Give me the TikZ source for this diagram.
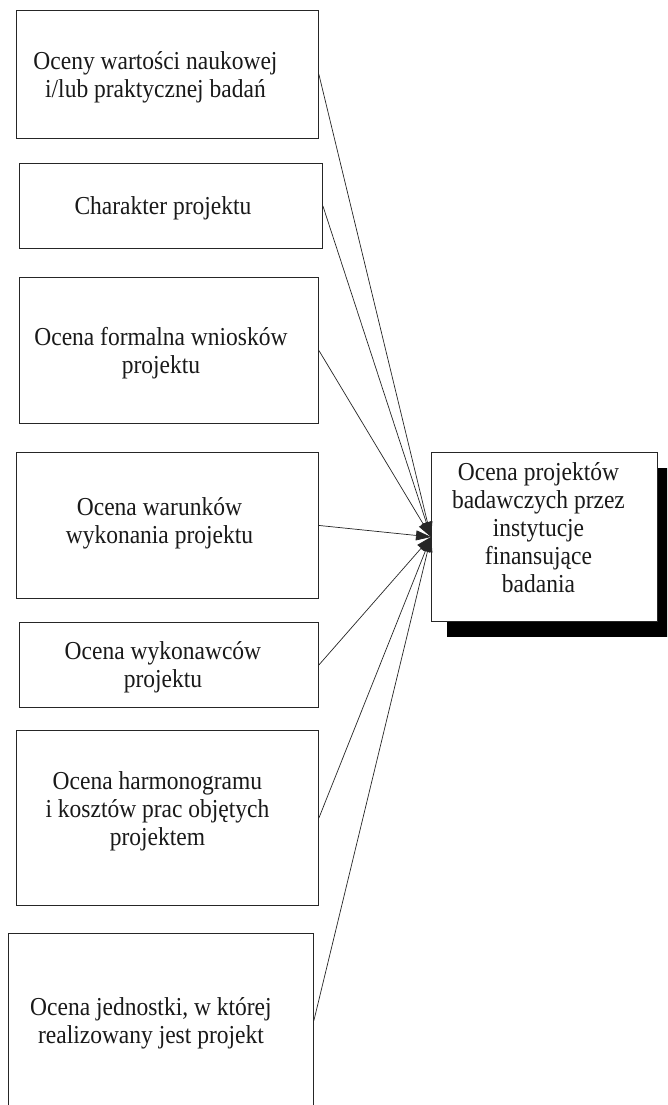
\documentclass[tikz,border=0pt]{standalone}
\usepackage{fontspec}
\usepackage{graphicx}
\setmainfont{Liberation Serif}
\usetikzlibrary{shadows,arrows.meta}
\newcommand{\tlines}[1]{\scalebox{1}[1.1]{\begin{tabular}{@{}c@{}}#1\end{tabular}}}
\begin{document}
\begin{tikzpicture}[x=1pt,y=-1pt,
  box/.style={draw=black!85,line width=0.9pt,fill=white,rectangle,inner sep=0pt,anchor=north west},
  txt/.style={align=center,inner sep=0pt,font=\fontsize{23.5}{25.5}\selectfont,text=black!90},
  conn/.style={draw=black!85,line width=0.7pt,-{Triangle[length=15pt,width=10pt]}}]
\clip (0,0) rectangle (667,1105);
\fill[white] (0,0) rectangle (667,1105);
\node[box,minimum width=302pt,minimum height=128pt] (b1) at (16,10) {};
\node[box,minimum width=303pt,minimum height=85pt] (b2) at (19,163) {};
\node[box,minimum width=299pt,minimum height=146pt] (b3) at (19,277) {};
\node[box,minimum width=302pt,minimum height=146pt] (b4) at (16,452) {};
\node[box,minimum width=299pt,minimum height=85pt] (b5) at (19,622) {};
\node[box,minimum width=302pt,minimum height=175pt] (b6) at (16,730) {};
\node[box,minimum width=305pt,minimum height=174pt] (b7) at (8,933) {};
\node[box,minimum width=226pt,minimum height=169pt,
  drop shadow={shadow xshift=16pt,shadow yshift=-16pt,fill=black,opacity=1}] (t) at (431,452) {};
\node[txt] (t1) at ([xshift=-12pt,yshift=-3pt]b1.center) {\tlines{Oceny wartości naukowej\\i/lub praktycznej badań}};
\node[txt] (t2) at ([xshift=-8pt,yshift=-3pt]b2.center) {\tlines{Charakter projektu}};
\node[txt] (t3) at ([xshift=-8pt,yshift=-3pt]b3.center) {\tlines{Ocena formalna wniosków\\projektu}};
\node[txt] (t4) at ([xshift=-8pt,yshift=2pt]b4.center) {\tlines{Ocena warunków\\wykonania projektu}};
\node[txt] (t5) at ([xshift=-6pt,yshift=-3pt]b5.center) {\tlines{Ocena wykonawców\\projektu}};
\node[txt] (t6) at ([xshift=-10pt,yshift=6pt]b6.center) {\tlines{Ocena harmonogramu\\i kosztów prac objętych\\projektem}};
\node[txt] (t7) at ([xshift=-10pt,yshift=-3pt]b7.center) {\tlines{Ocena jednostki, w której\\realizowany jest projekt}};
\node[txt] (tt) at ([xshift=-6pt,yshift=6pt]t.center) {\tlines{Ocena projektów\\badawczych przez\\instytucje\\finansujące\\badania}};
\foreach \b in {b1,b2,b3,b4,b5,b6,b7}
  \draw[conn] (\b.east) -- (t.west);
\end{tikzpicture}
\end{document}
